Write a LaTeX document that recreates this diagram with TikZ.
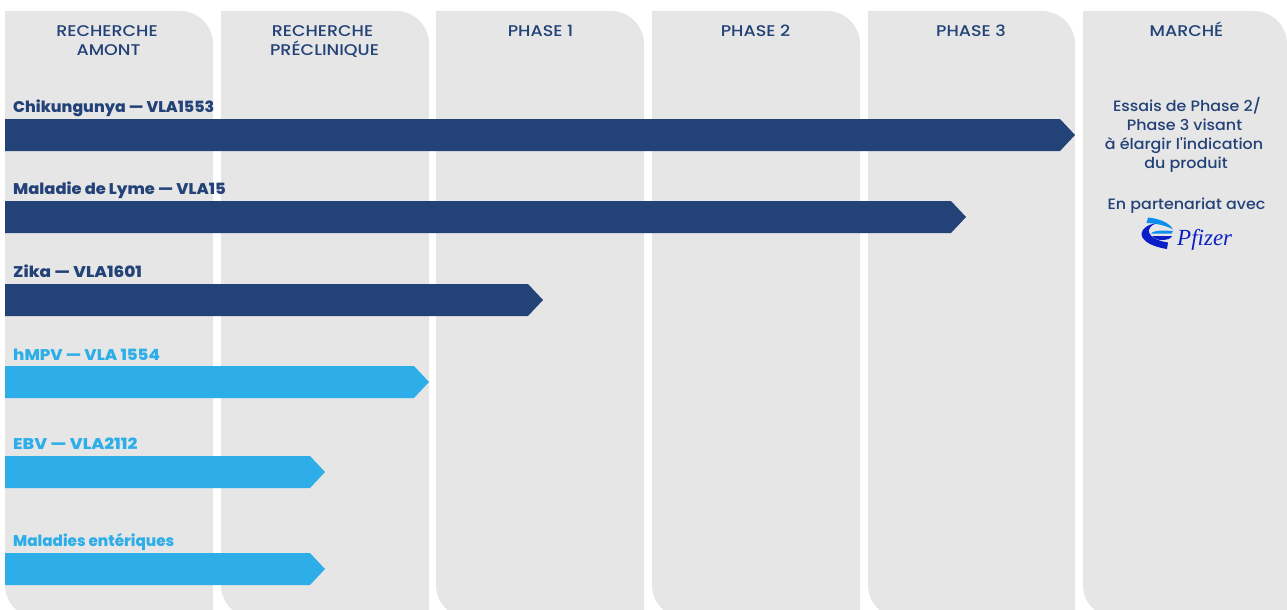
\documentclass[tikz,border=0pt]{standalone}
\usepackage{fontspec}
\setmainfont{Poppins}
\newfontfamily\headfont[FakeStretch=1.13]{Poppins Medium}
\newfontfamily\sidefont[FakeStretch=1.06]{Poppins Medium}
\newfontfamily\labelfont{Poppins ExtraBold}
\newfontfamily\pfizerfont{Liberation Serif}
\definecolor{colgrey}{HTML}{E6E6E6}
\definecolor{navy}{HTML}{234278}
\definecolor{sky}{HTML}{2DAEE8}
\definecolor{pfdark}{HTML}{0A1FC8}
\definecolor{pflight}{HTML}{0A8FF0}
\tikzset{
  colhead/.style={anchor=base,inner sep=0pt,text=navy,font=\headfont\fontsize{15.5}{19}\selectfont},
  proglabel/.style={anchor=base west,inner sep=0pt,font=\labelfont\fontsize{15.5}{19}\selectfont},
  sidetext/.style={anchor=base,inner sep=0pt,text=navy,font=\sidefont\fontsize{15}{19}\selectfont},
}
\newcommand{\phasecol}[2]{\fill[colgrey] (#1,11) -- ({#2-33},11) arc[start angle=90,end angle=0,x radius=33,y radius=-33] -- (#2,618) -- ({#1+33},618) arc[start angle=270,end angle=180,x radius=33,y radius=-33] -- cycle;}
\newcommand{\progbar}[4]{\fill[#4] (5,#2) -- ({#1-15},#2) -- (#1,{#2+16}) -- ({#1-15},#3) -- (5,#3) -- cycle;}
\newcommand{\wide}[2]{\scalebox{#1}[1]{#2}}
\begin{document}
\begin{tikzpicture}[x=1pt,y=-1pt]
\useasboundingbox (0,0) rectangle (1287,610);
\clip (0,0) rectangle (1287,610);
\phasecol{5}{213}
\phasecol{221}{429}
\phasecol{436}{644}
\phasecol{652}{860}
\phasecol{868}{1075}
\phasecol{1083}{1287}
\node[colhead] (h1a) at (107,36.6) {RECHERCHE};
\node[colhead] (h1b) at (108.5,55.6) {AMONT};
\node[colhead] (h2a) at (322.5,36.6) {RECHERCHE};
\node[colhead] (h2b) at (324.5,55.6) {PRÉCLINIQUE};
\node[colhead] (h3) at (540.5,36.6) {PHASE 1};
\node[colhead] (h4) at (755.5,36.6) {PHASE 2};
\node[colhead] (h5) at (971,36.6) {PHASE 3};
\node[colhead] (h6) at (1186.5,36.6) {MARCHÉ};
\progbar{1075}{119}{151}{navy}
\progbar{966}{201}{233}{navy}
\progbar{543}{284}{316}{navy}
\progbar{429}{366}{398}{sky}
\progbar{325}{456}{488}{sky}
\progbar{325}{553}{585}{sky}
\node[proglabel,text=navy] (l1) at (13,112) {\wide{1.015}{Chikungunya — VLA1553}};
\node[proglabel,text=navy] (l2) at (13,194) {\wide{1.05}{Maladie de Lyme — VLA15}};
\node[proglabel,text=navy] (l3) at (13,277) {\wide{1.09}{Zika — VLA1601}};
\node[proglabel,text=sky] (l4) at (13,360) {\wide{1.065}{hMPV — VLA 1554}};
\node[proglabel,text=sky] (l5) at (13,449) {\wide{1.115}{EBV — VLA2112}};
\node[proglabel,text=sky] (l6) at (13,546) {\wide{0.98}{Maladies entériques}};
\node[sidetext] (s1) at (1187,111) {Essais de Phase 2/};
\node[sidetext] (s2) at (1184.5,130) {Phase 3 visant};
\node[sidetext] (s3) at (1184,149) {à élargir l'indication};
\node[sidetext] (s4) at (1186,168) {du produit};
\node[sidetext] (s5) at (1186.5,209) {En partenariat avec};
% Pfizer logo
\fill[pflight] (1148,217.5) .. controls (1158,218.5) and (1169,222) .. (1173,229.5) .. controls (1166,225.5) and (1157,223.5) .. (1146.5,223) -- cycle;
\fill[pflight] (1151,233.5) .. controls (1153,231) and (1158,230) .. (1173,231) -- (1171.5,233.5) -- cycle;
\fill[pfdark] (1156,223.5) .. controls (1151,225) and (1148,229) .. (1149,232.5) .. controls (1150.5,237.5) and (1158,241) .. (1168,242.5) -- (1167,249) .. controls (1153,247) and (1141,241) .. (1141.5,233.5) .. controls (1141.8,229) and (1148,224) .. (1156,223.5) -- cycle;
\fill[pfdark] (1152,236) -- (1172,236) .. controls (1171,238.5) and (1168,240) .. (1161,240) .. controls (1158,240) and (1154,238.5) .. (1152,236) -- cycle;
\node[anchor=base west,inner sep=0pt,text=pfdark,font=\pfizerfont\itshape\fontsize{23}{23}\selectfont] (pf) at (1177,245) {Pfizer};
\end{tikzpicture}
\end{document}
